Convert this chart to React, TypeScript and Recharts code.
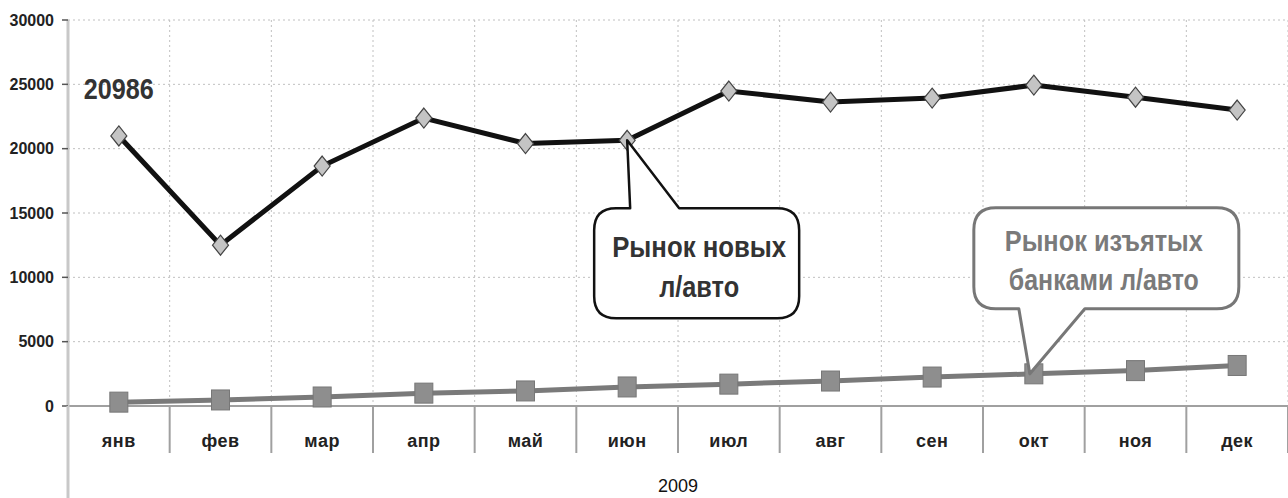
import { ComposedChart, Line, XAxis, YAxis, CartesianGrid, ReferenceDot, Label } from "recharts";

// 2009 monthly data
const months = ["янв", "фев", "мар", "апр", "май", "июн", "июл", "авг", "сен", "окт", "ноя", "дек"];
const newCars = [20986, 12500, 18650, 22380, 20400, 20650, 24480, 23620, 23930, 24940, 24000, 23000];
const repoCars = [300, 470, 700, 1000, 1170, 1480, 1700, 1940, 2250, 2500, 2750, 3150];
const yTicks = [0, 5000, 10000, 15000, 20000, 25000, 30000];
const year = "2009";
const newLabel = ["Рынок новых", "л/авто"];
const repoLabel = ["Рынок изъятых", "банками л/авто"];

const data = months.map((m, i) => ({ month: m, newCars: newCars[i], repoCars: repoCars[i] }));

const W = 1288;
const H = 498;
const MARGIN = { top: 20, right: 0, left: 8, bottom: 0 };
const Y_W = 60;
const X_H = 92;
const BAND = (W - MARGIN.left - MARGIN.right - Y_W) / months.length;

const SANS = '"Liberation Sans", Arial, sans-serif';

// the original uses a condensed bold face; squeeze Liberation Sans Bold to the measured widths
function NarrowText({ x, y, w, size, fill, children }: any) {
  return (
    <text
      x={x - w / 2}
      y={y}
      textLength={w}
      lengthAdjust="spacingAndGlyphs"
      fontFamily={SANS}
      fontWeight="bold"
      fontSize={size}
      fill={fill}
    >
      {children}
    </text>
  );
}

function XTick(props: any) {
  const { x, y, payload, index } = props;
  const half = BAND / 2;
  return (
    <g>
      {index === 0 && (
        <line x1={x - half} x2={x - half} y1={y} y2={H} stroke="#c8c8c8" strokeWidth={3} />
      )}
      <line x1={x + half} x2={x + half} y1={y} y2={y + 47} stroke="#a0a0a0" strokeWidth={2} />
      <text x={x} y={y + 41} textAnchor="middle" fontFamily={SANS} fontSize={18} fontWeight="bold" fill="#222" letterSpacing={0.5}>
        {payload.value}
      </text>
    </g>
  );
}

function Diamond(props: any) {
  const { cx, cy } = props;
  if (cx == null || cy == null) return <g />;
  const sx = 8, sy = 10;
  return (
    <polygon
      points={`${cx},${cy - sy} ${cx + sx},${cy} ${cx},${cy + sy} ${cx - sx},${cy}`}
      fill="#c4c4c4"
      stroke="#444"
      strokeWidth={1.2}
    />
  );
}

function Square(props: any) {
  const { cx, cy } = props;
  if (cx == null || cy == null) return <g />;
  return <rect x={cx - 9} y={cy - 10} width={18} height={20} fill="#8e8e8e" stroke="#777" strokeWidth={1} />;
}

// callout pointing up at a point (box below)
function NewCallout(props: any) {
  const { cx, cy } = props;
  const l = cx - 33, r = cx + 172, t = cy + 68, b = cy + 178, rad = 22;
  const d = `M ${l + rad} ${t} H ${cx + 3} L ${cx} ${cy} L ${cx + 52} ${t} H ${r - rad} Q ${r} ${t} ${r} ${t + rad} V ${b - rad} Q ${r} ${b} ${r - rad} ${b} H ${l + rad} Q ${l} ${b} ${l} ${b - rad} V ${t + rad} Q ${l} ${t} ${l + rad} ${t} Z`;
  const tx = cx + 72;
  return (
    <g>
      <path d={d} fill="#fff" stroke="#111" strokeWidth={2.5} strokeLinejoin="round" />
      <NarrowText x={tx} y={cy + 117} w={174} size={30} fill="#333">{newLabel[0]}</NarrowText>
      <NarrowText x={tx} y={cy + 157} w={80} size={30} fill="#333">{newLabel[1]}</NarrowText>
    </g>
  );
}

// callout pointing down at a point (box above)
function RepoCallout(props: any) {
  const { cx, cy } = props;
  const l = cx - 60, r = cx + 205, t = cy - 166, b = cy - 65, rad = 22;
  const d = `M ${l + rad} ${t} H ${r - rad} Q ${r} ${t} ${r} ${t + rad} V ${b - rad} Q ${r} ${b} ${r - rad} ${b} H ${cx + 51} L ${cx - 4} ${cy} L ${cx - 15} ${b} H ${l + rad} Q ${l} ${b} ${l} ${b - rad} V ${t + rad} Q ${l} ${t} ${l + rad} ${t} Z`;
  const tx = cx + 70;
  return (
    <g>
      <path d={d} fill="#fff" stroke="#777" strokeWidth={3} strokeLinejoin="round" />
      <NarrowText x={tx} y={cy - 123} w={198} size={29} fill="#7a7a7a">{repoLabel[0]}</NarrowText>
      <NarrowText x={tx} y={cy - 84} w={190} size={29} fill="#7a7a7a">{repoLabel[1]}</NarrowText>
    </g>
  );
}

function FirstValue(props: any) {
  const { cx, cy } = props;
  return (
    <NarrowText x={cx} y={cy - 37} w={70} size={30} fill="#333">
      {String(newCars[0])}
    </NarrowText>
  );
}

export default function App() {
  return (
    <div style={{ position: "absolute", left: 0, top: 0, width: W, height: H, background: "#fff" }}>
      <ComposedChart width={W} height={H} data={data} margin={MARGIN}>
        <CartesianGrid
          stroke="#c0c0c0"
          strokeDasharray="2 3"
          verticalCoordinatesGenerator={({ offset }: any) =>
            months.map((_, i) => offset.left + (i + 1) * (offset.width / months.length))
          }
        />
        <XAxis
          dataKey="month"
          scale="band"
          height={X_H}
          tickSize={0}
          tickMargin={0}
          tickLine={false}
          axisLine={{ stroke: "#a0a0a0", strokeWidth: 2 }}
          tick={<XTick />}
          interval={0}
        >
          <Label value={year} position="insideBottom" offset={6} fill="#111" fontSize={18} fontFamily={SANS} />
        </XAxis>
        <YAxis
          width={Y_W}
          domain={[0, 30000]}
          ticks={yTicks}
          interval={0}
          tickSize={6}
          tickMargin={8}
          tickLine={{ stroke: "#555", strokeWidth: 1.5 }}
          axisLine={{ stroke: "#c8c8c8", strokeWidth: 3 }}
          tick={{ fill: "#222", fontSize: 16, fontFamily: SANS, fontWeight: "bold" }}
        />
        <Line
          dataKey="repoCars"
          stroke="#7a7a7a"
          strokeWidth={5}
          dot={(p: any) => <Square key={`s${p.index}`} {...p} />}
          activeDot={false}
          isAnimationActive={false}
        />
        <Line
          dataKey="newCars"
          stroke="#111"
          strokeWidth={5}
          dot={(p: any) => <Diamond key={`d${p.index}`} {...p} />}
          activeDot={false}
          isAnimationActive={false}
        />
        <ReferenceDot x={months[0]} y={newCars[0]} r={0} ifOverflow="visible" shape={(p: any) => <FirstValue {...p} />} />
        <ReferenceDot x={months[5]} y={newCars[5]} r={0} ifOverflow="visible" shape={(p: any) => <NewCallout {...p} />} />
        <ReferenceDot x={months[9]} y={repoCars[9]} r={0} ifOverflow="visible" shape={(p: any) => <RepoCallout {...p} />} />
      </ComposedChart>
    </div>
  );
}
